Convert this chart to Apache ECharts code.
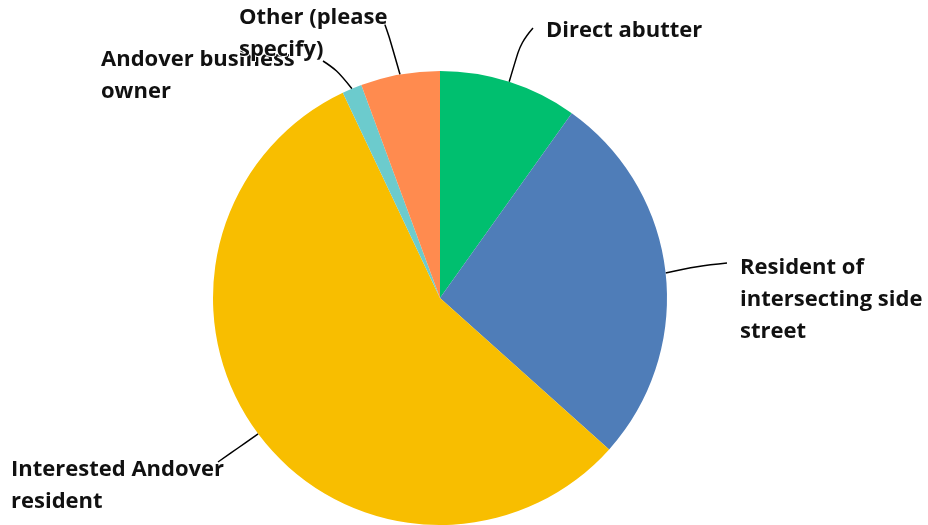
<!DOCTYPE html>
<html><head><meta charset="utf-8">
<script src="https://cdn.jsdelivr.net/npm/echarts@6/dist/echarts.min.js"></script>
<style>html,body{margin:0;padding:0;background:#fff}#c{width:928px;height:525px}</style>
</head><body><div id="c"></div>
<script>
const categories = ["Direct abutter", "Resident of\nintersecting side\nstreet", "Interested Andover\nresident", "Andover business\nowner", "Other (please\nspecify)"];
const values = [7, 19, 40, 1, 4];
const colors = ["#00BF6F", "#4F7DB8", "#F8BE00", "#6CCBCD", "#FF8B4F"];
// label text top-left positions
const labelPos = [[546, 15], [740, 252], [11, 454], [101, 44], [239, 2]];
// leader line middle and end points
const linePts = [
  [[521, 42], [533, 28]],
  [[697, 266], [727, 263]],
  [[238, 448], [218, 462]],
  [[337, 70], [323, 61]],
  [[389, 36], [384, 22]]
];

const chart = echarts.init(document.getElementById('c'), null, {renderer: 'canvas'});
chart.setOption({
  animation: false,
  series: [{
    type: 'pie',
    center: [440, 298],
    radius: 227,
    startAngle: 90,
    clockwise: true,
    data: categories.map((n, i) => ({name: n, value: values[i], itemStyle: {color: colors[i]}})),
    itemStyle: {borderWidth: 0},
    label: {
      show: true, formatter: '{b}', color: '#111', overflow: 'none',
      fontFamily: 'Open Sans', fontWeight: 'bold', fontSize: 22, lineHeight: 32,
      textBorderColor: '#fff', textBorderWidth: 2
    },
    labelLine: {show: true, smooth: 0.4, lineStyle: {color: '#000', width: 1.5}, length: 20, length2: 20},
    labelLayout: function (p) {
      const q = labelPos[p.dataIndex];
      const s = p.labelLinePoints ? p.labelLinePoints[0] : null;
      const out = {x: q[0], y: q[1], align: 'left', verticalAlign: 'top'};
      if (s) out.labelLinePoints = [s, linePts[p.dataIndex][0], linePts[p.dataIndex][1]];
      return out;
    }
  }]
});
</script></body></html>
